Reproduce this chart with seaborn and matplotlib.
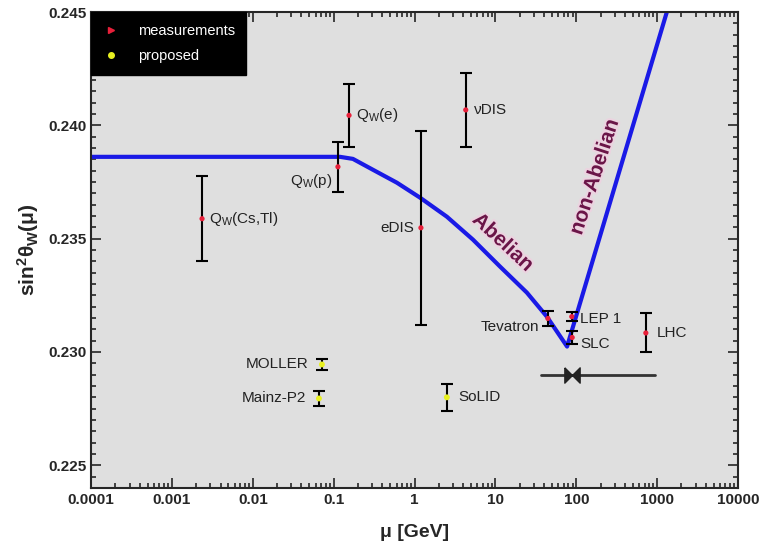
import matplotlib
matplotlib.use("Agg")
import matplotlib.pyplot as plt
import matplotlib.ticker as mticker
import matplotlib.patheffects as pe
from matplotlib.lines import Line2D
import pandas as pd
import seaborn as sns

# running of the weak mixing angle
curve_mu = [1e-4, 0.12, 0.173, 0.306, 0.605, 1.17, 2.51, 5.27, 11.4, 24.5, 43.3, 77, 1318]
curve_s2 = [0.23861, 0.23861, 0.23852, 0.23804, 0.23747, 0.23681, 0.23597,
            0.23496, 0.23377, 0.23262, 0.23156, 0.23024, 0.245]

# existing measurements
meas_names = [r"Q$_\mathrm{W}$(Cs,Tl)", r"Q$_\mathrm{W}$(p)", r"Q$_\mathrm{W}$(e)", "νDIS",
              "eDIS", "Tevatron", "LEP 1", "SLC", "LHC"]
meas_mu = [0.00236, 0.113, 0.155, 4.3, 1.2, 44.6, 88, 89, 725]
meas_s2 = [0.23588, 0.23817, 0.24044, 0.24068, 0.23548, 0.23148, 0.23156, 0.23064, 0.23084]
meas_err = [0.00187, 0.0011, 0.00139, 0.00163, 0.00427, 0.00035, 0.0002, 0.0003, 0.00086]

# proposed experiments
prop_names = ["MOLLER", "Mainz-P2", "SoLID"]
prop_mu = [0.0716, 0.0658, 2.51]
prop_s2 = [0.22945, 0.22795, 0.228]
prop_err = [0.00026, 0.00033, 0.0006]

# horizontal range bar with the Z pole marker
band_mu = [36.5, 937]
band_s2 = [0.22897, 0.22897]
zpole_mu = 88

# x tick labels
xtick_vals = [1e-4, 1e-3, 1e-2, 1e-1, 1, 10, 100, 1000, 10000]
xtick_labels = ["0.0001", "0.001", "0.01", "0.1", "1", "10", "100", "1000", "10000"]

# label offsets in points (dx, dy, ha) - layout only
meas_offsets = [(5, 0, "left"), (-4, -10, "right"), (5, 0, "left"), (6, 0, "left"),
                (-5, 0, "right"), (-6, -6, "right"), (6, -2, "left"), (6, -5, "left"),
                (8, 0, "left")]
prop_offsets = [(-10, 0, "right"), (-9, 0, "right"), (8, 0, "left")]

sns.set_theme(style="ticks")
plt.rcParams["font.family"] = ["Liberation Sans", "DejaVu Sans"]
plt.rcParams["mathtext.fontset"] = "custom"
plt.rcParams["mathtext.rm"] = "Liberation Sans"
plt.rcParams["mathtext.it"] = "Liberation Sans:italic"
plt.rcParams["mathtext.bf"] = "Liberation Sans:bold"

fig = plt.figure(figsize=(7.61, 5.48), dpi=100)
ax = fig.add_axes([0.1196, 0.1095, 0.8502, 0.8686])
ax.set_facecolor("#dfdfdf")

curve = pd.DataFrame({"mu": curve_mu, "s2": curve_s2})
sns.lineplot(data=curve, x="mu", y="s2", sort=False, estimator=None,
             color="#1a1ae6", lw=3, ax=ax, zorder=2)

band = pd.DataFrame({"mu": band_mu, "s2": band_s2})
sns.lineplot(data=band, x="mu", y="s2", sort=False, estimator=None,
             color="#333333", lw=2, ax=ax)
bowtie = [(-1, 1), (1, -1), (1, 1), (-1, -1), (-1, 1)]
ax.plot([zpole_mu], [band_s2[0]], marker=bowtie, ms=11, color="#222222", ls="none")

ax.errorbar(meas_mu, meas_s2, yerr=meas_err, fmt="none", ecolor="black",
            elinewidth=1.5, capsize=4, capthick=1.5, zorder=3)
sns.scatterplot(x=meas_mu, y=meas_s2, color="#e8203a", marker="o", s=14,
                edgecolor="none", ax=ax, zorder=4)

ax.errorbar(prop_mu, prop_s2, yerr=prop_err, fmt="none", ecolor="black",
            elinewidth=1.5, capsize=4, capthick=1.5, zorder=3)
sns.scatterplot(x=prop_mu, y=prop_s2, color="#e8f020", marker="o", s=18,
                edgecolor="none", ax=ax, zorder=4)

for name, mu, s2, (dx, dy, ha) in zip(meas_names, meas_mu, meas_s2, meas_offsets):
    ax.annotate(name, (mu, s2), xytext=(dx, dy), textcoords="offset points",
                ha=ha, va="center", fontsize=11, color="#222222")
for name, mu, s2, (dx, dy, ha) in zip(prop_names, prop_mu, prop_s2, prop_offsets):
    ax.annotate(name, (mu, s2), xytext=(dx, dy), textcoords="offset points",
                ha=ha, va="center", fontsize=11, color="#222222")

halo = [pe.withStroke(linewidth=3, foreground="#ecd3e0")]
ax.text(12.4, 0.23482, "Abelian", rotation=-43, rotation_mode="anchor",
        ha="center", va="center", fontsize=15, fontweight="bold",
        color="#6b1548", path_effects=halo)
ax.text(170, 0.23773, "non-Abelian", rotation=72, rotation_mode="anchor",
        ha="center", va="center", fontsize=15, fontweight="bold",
        color="#6b1548", path_effects=halo)

ax.set_xscale("log")
ax.set_xlim(1e-4, 1e4)
ax.set_ylim(0.224, 0.245)
ax.xaxis.set_major_locator(mticker.FixedLocator(xtick_vals))
ax.xaxis.set_major_formatter(mticker.FixedFormatter(xtick_labels))
ax.xaxis.set_minor_locator(mticker.LogLocator(base=10, subs=range(2, 10), numticks=100))
ax.xaxis.set_minor_formatter(mticker.NullFormatter())
ax.yaxis.set_major_locator(mticker.MultipleLocator(0.005))
ax.yaxis.set_minor_locator(mticker.MultipleLocator(0.0005))
ax.yaxis.set_major_formatter(mticker.FormatStrFormatter("%.3f"))

ax.tick_params(which="both", direction="in", top=True, right=True, width=1.2)
ax.tick_params(which="major", length=7, labelsize=11)
ax.tick_params(which="minor", length=3.5)
for lab in ax.get_xticklabels() + ax.get_yticklabels():
    lab.set_fontweight("bold")
for sp in ax.spines.values():
    sp.set_linewidth(1.5)

ax.set_xlabel("μ [GeV]", fontsize=14, fontweight="bold", labelpad=12)
ax.set_ylabel(r"sin$^{\mathbf{2}}$θ$_{\mathbf{W}}$(μ)", fontsize=15, fontweight="bold", labelpad=5)

handles = [Line2D([], [], ls="none", marker=">", ms=5, color="#e8203a"),
           Line2D([], [], ls="none", marker="o", ms=4, color="#e8f020")]
leg = ax.legend(handles, ["measurements", "proposed"], loc="upper left",
                bbox_to_anchor=(0, 1), borderaxespad=0, frameon=True, fancybox=False,
                facecolor="black", edgecolor="black", framealpha=1, fontsize=10.5,
                handlelength=1.2, borderpad=0.8, labelspacing=0.8, handletextpad=1.2)
for t in leg.get_texts():
    t.set_color("white")

fig.savefig("out.png", dpi=100)
